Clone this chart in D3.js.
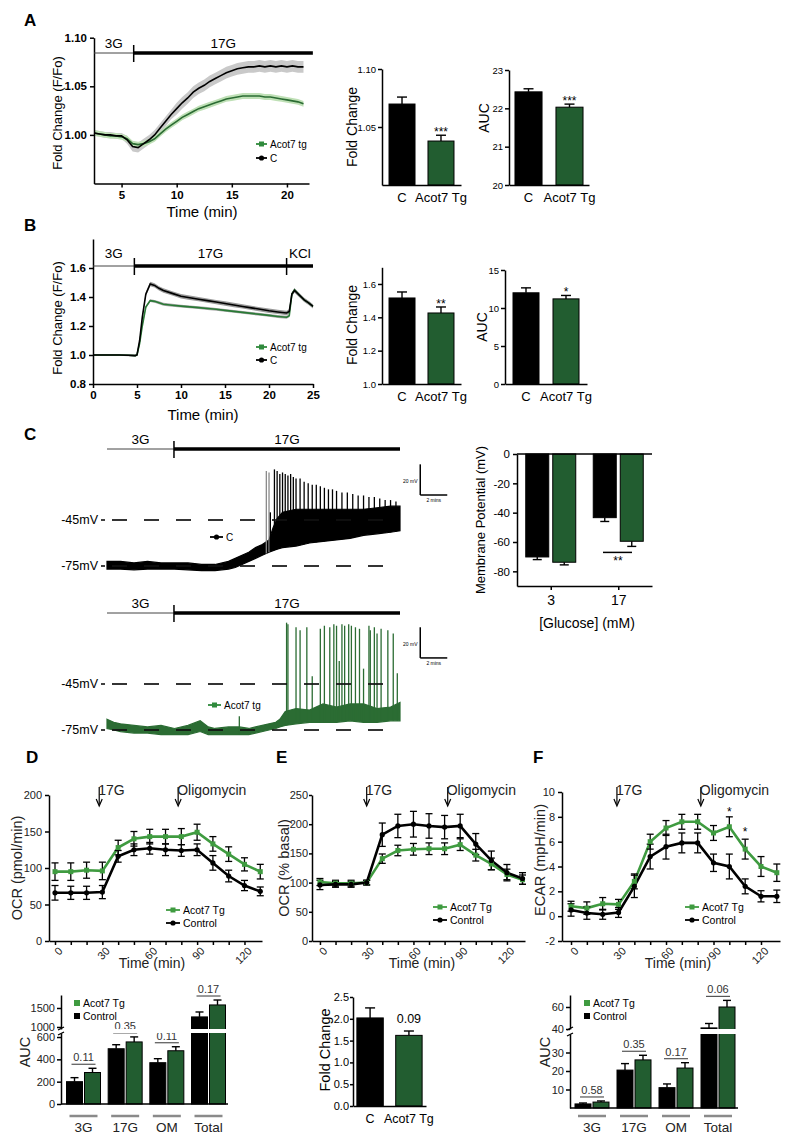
<!DOCTYPE html>
<html><head><meta charset="utf-8">
<script src="https://cdn.jsdelivr.net/npm/d3@7/dist/d3.min.js"></script>
<style>body{margin:0;background:#fff;}</style>
</head><body>
<script>
const FONT='"Liberation Sans", Arial, Helvetica, sans-serif';
// ================= DATA =================
// Panel A – Ca2+ fold change traces
const aTime=[2.5,3,3.5,4,4.5,5,5.5,6,6.5,7,7.5,8,8.5,9,9.5,10,10.5,11,11.5,12,12.5,13,13.5,14,14.5,15,15.5,16,16.5,17,17.5,18,18.5,19,19.5,20,20.5,21,21.5];
const aCtrl=[1.002,1.001,1.000,1.000,0.999,0.999,0.995,0.988,0.987,0.991,0.995,1.000,1.007,1.014,1.021,1.027,1.033,1.038,1.044,1.048,1.051,1.055,1.058,1.061,1.064,1.066,1.068,1.069,1.070,1.070,1.071,1.070,1.071,1.070,1.071,1.070,1.071,1.070,1.070];
const aCtrlSem=[0.003,0.003,0.003,0.003,0.003,0.003,0.004,0.005,0.005,0.005,0.005,0.005,0.005,0.005,0.005,0.006,0.006,0.006,0.006,0.006,0.006,0.006,0.006,0.006,0.006,0.006,0.006,0.006,0.006,0.006,0.006,0.006,0.006,0.006,0.006,0.006,0.006,0.006,0.006];
const aTg=[1.002,1.001,1.000,0.999,0.999,0.998,0.996,0.991,0.990,0.991,0.993,0.996,1.001,1.006,1.010,1.014,1.018,1.021,1.024,1.027,1.029,1.031,1.033,1.035,1.037,1.038,1.039,1.040,1.040,1.040,1.040,1.039,1.039,1.038,1.037,1.036,1.035,1.034,1.032];
const aTgSem=[0.003,0.003,0.003,0.003,0.003,0.003,0.003,0.003,0.003,0.003,0.003,0.003,0.003,0.003,0.003,0.003,0.003,0.003,0.003,0.003,0.003,0.003,0.003,0.003,0.003,0.003,0.003,0.003,0.003,0.003,0.003,0.003,0.003,0.003,0.003,0.003,0.003,0.003,0.003];
const aTreat=["3G","17G"], aTreatBounds=[2.5,6.1,22.35];
const barGroups=["C","Acot7 Tg"];
const aFold=[1.0698,1.0379], aFoldErr=[0.006,0.005], aFoldSig=["","***"];
const aAuc=[22.43,22.03], aAucErr=[0.08,0.08], aAucSig=["","***"];
// Panel B
const bTime=[0,1,2,3,4,4.8,5,5.3,5.6,6,6.5,7,7.5,8,9,10,11,12,13,14,15,16,17,18,19,20,21,22,22.3,22.6,22.9,23.5,24,24.5,25];
const bCtrl=[1.0,1.0,1.0,1.0,0.998,0.996,1.0,1.1,1.26,1.42,1.49,1.48,1.46,1.445,1.425,1.405,1.395,1.385,1.375,1.365,1.355,1.345,1.335,1.325,1.315,1.305,1.297,1.29,1.30,1.42,1.445,1.41,1.38,1.36,1.335];
const bCtrlSem=[0.006,0.006,0.006,0.006,0.006,0.006,0.006,0.012,0.014,0.015,0.015,0.015,0.015,0.015,0.015,0.015,0.015,0.015,0.015,0.015,0.015,0.015,0.015,0.015,0.015,0.015,0.015,0.015,0.015,0.015,0.015,0.015,0.015,0.015,0.015];
const bTg=[1.0,1.0,1.0,1.0,0.998,0.996,1.0,1.08,1.2,1.33,1.375,1.37,1.36,1.35,1.343,1.337,1.332,1.327,1.321,1.315,1.308,1.301,1.294,1.287,1.28,1.273,1.266,1.26,1.27,1.42,1.45,1.41,1.38,1.36,1.335];
const bTgSem=[0.005,0.005,0.005,0.005,0.005,0.005,0.005,0.01,0.01,0.01,0.01,0.01,0.01,0.01,0.01,0.01,0.01,0.01,0.01,0.01,0.01,0.01,0.01,0.01,0.01,0.01,0.01,0.01,0.01,0.01,0.01,0.01,0.01,0.01,0.01];
const bTreat=["3G","17G","KCl"], bTreatBounds=[0,4.7,22.0,25.0];
const bFold=[1.516,1.426], bFoldErr=[0.036,0.036], bFoldSig=["","**"];
const bAuc=[12.0,11.2], bAucErr=[0.65,0.45], bAucSig=["","*"];
// Panel C – membrane potential traces (envelopes, mV) and spikes
const cTreat=["3G","17G"], cTreatBounds=[0,4.96,21.7];
const cTime=[0,1,2,3,4,5,6,7,8,9,9.5,10,10.5,11,11.5,12,12.3,12.6,13,14,15,16,17,18,19,20,21,21.7];
const cLow=[-77,-77,-77.5,-77,-77,-77,-77.5,-78,-78,-77,-76,-74,-72,-70,-68,-66,-65,-64,-63,-62,-60,-59,-58,-57,-55,-54,-53,-52];
const cCore=[-72,-72,-73,-72,-73,-73,-73,-74,-74,-72,-70,-68,-66,-63,-61,-58,-50,-44,-40,-38,-38,-38,-38,-38,-38,-37,-36,-36];
const cSpikeT=[11.8,12.0,12.1,12.4,12.6,12.8,13.0,13.2,13.4,13.6,13.8,14.0,14.3,14.6,14.9,15.2,15.5,15.8,16.1,16.4,16.7,17.0,17.4,17.8,18.2,18.6,19.0,19.4,19.8,20.2,20.6,21.0,21.4];
const cSpikeV=[-13,-14,-40,-12,-13,-15,-14,-15,-16,-15,-17,-18,-18,-20,-21,-22,-22,-23,-24,-25,-25,-26,-27,-27,-28,-29,-29,-30,-30,-31,-32,-32,-33];
const gTime=[0,0.5,1,2,3,4,5,6,6.9,7.5,8,9,9.8,10.5,11,12,12.5,12.8,13.2,14,15,16,17,18,19,20,21,21.7];
const gLow=[-74,-75,-76,-77,-77,-78,-78,-78,-76,-78,-78,-78,-78,-78,-77,-75,-74,-73,-72,-71,-70,-70,-70,-69,-70,-70,-69,-69];
const gHigh=[-68,-70,-71,-72,-73,-72,-74,-72,-69,-73,-74,-73,-73,-74,-73,-71,-70,-68,-63,-61,-62,-58,-60,-58,-58,-61,-60,-57];
const gSpikeT=[9.8,13.3,13.4,14.0,14.3,14.8,15.2,15.8,16.1,16.5,16.8,17.0,17.2,17.4,17.6,17.9,18.1,18.4,18.7,19.0,19.4,19.5,19.8,20.0,20.3,20.8,21.2,21.5];
const gSpikeV=[-66,-5,-6,-8,-10,-8,-40,-9,-7,-8,-6,-7,-30,-6,-7,-6,-7,-8,-9,-35,-7,-10,-8,-12,-9,-10,-12,-38];
const mvRefs=[-45,-75];
// Panel C – membrane potential bars
const mpGlucose=["3","17"];
const mpCtrl=[-70.2,-43.4], mpCtrlErr=[1.8,2.6];
const mpTg=[-73.8,-59.5], mpTgErr=[1.8,3.5];
// Panels D–F – Seahorse time courses
const seaTime=[0,10,20,30,40,50,60,70,80,90,100,110,120,130];
const seaTicks=[0,10,20,30,40,50,60,70,80,90,100,110,120];
const ocrTg=[95,95,97,96,128,140,143,143,143,149,133,119,105,95];
const ocrTgErr=[12,12,11,12,10,10,10,10,11,11,10,10,9,10];
const ocrCtrl=[66,66,66,67,116,125,127,125,124,125,107,89,76,68];
const ocrCtrlErr=[10,9,9,9,8,8,8,8,8,8,10,8,7,6];
const pctTg=[101,99,99,100,141,155,157,158,158,165,147,132,114,105];
const pctTgErr=[6,5,5,4,8,9,10,10,10,10,10,10,9,8];
const pctCtrl=[96,97,97,100,182,197,200,197,195,197,166,138,117,107];
const pctCtrlErr=[8,5,5,4,20,20,22,21,20,20,18,16,14,10];
const ecarTg=[0.8,0.65,1.0,0.95,2.8,6.0,7.1,7.6,7.6,6.7,7.2,5.4,4.0,3.5];
const ecarTgErr=[0.4,0.5,0.5,0.4,0.6,0.6,0.6,0.6,0.6,0.6,0.8,0.8,0.8,0.7];
const ecarCtrl=[0.5,0.25,0.15,0.3,2.4,4.8,5.6,5.9,5.9,4.3,4.0,2.4,1.6,1.6];
const ecarCtrlErr=[0.5,0.5,0.4,0.4,0.9,1.0,1.0,0.8,0.8,0.7,1.0,0.6,0.45,0.5];
const ecarStarT=[100,110], ecarStarV=[8.6,7.0];
// Bottom bar charts
const aucGroups=["3G","17G","OM","Total"];
const ocrAucCtrl=[200,495,370,1265], ocrAucCtrlErr=[36,36,36,130];
const ocrAucTg=[282,556,477,1580], ocrAucTgErr=[38,45,36,130];
const ocrAucP=["0.11","0.35","0.11","0.17"];
const ocrFold=[2.02,1.62], ocrFoldErr=[0.23,0.1], ocrFoldP=["","0.09"];
const ecarAucCtrl=[2.2,20.5,11,41], ecarAucCtrlErr=[0.5,3.5,2,4];
const ecarAucTg=[3.2,26,21.6,60], ecarAucTgErr=[0.6,2.5,2.9,6];
const ecarAucP=["0.58","0.35","0.17","0.06"];

// ================= DRAWING =================
const GREEN_BAR="#225d30", GREEN_LINE="#3f9b40", GREEN_TRACE="#2b6c33";
const svg=d3.select("body").append("svg").attr("width",800).attr("height",1145).attr("font-family",FONT);
svg.append("rect").attr("width",800).attr("height",1145).attr("fill","#fff");

function T(s,x,y,o={}){
  const t=svg.append("text").attr("x",x).attr("y",y).text(s).attr("font-size",o.size||12)
   .attr("text-anchor",o.anchor||"middle").attr("fill",o.fill||"#000");
  if(o.weight) t.attr("font-weight",o.weight);
  if(o.rot!==undefined) t.attr("transform",`rotate(${o.rot},${x},${y})`);
  if(o.dy) t.attr("dy",o.dy);
  return t;
}
function styleAx(sel,size,weight,fill){
  sel.attr("font-family",FONT).attr("font-size",size);
  sel.select(".domain").attr("stroke","#000").attr("stroke-width",1.5);
  sel.selectAll(".tick line").attr("stroke","#000").attr("stroke-width",1.5);
  sel.selectAll(".tick text").attr("fill",fill||"#000").attr("font-weight",weight||"normal");
}
function L(x1,y1,x2,y2,col,w,dash){
  const l=svg.append("line").attr("x1",x1).attr("y1",y1).attr("x2",x2).attr("y2",y2).attr("stroke",col||"#000").attr("stroke-width",w||1.5);
  if(dash) l.attr("stroke-dasharray",dash);
  return l;
}
function errBar(x,y0,y1,cap){ L(x,y0,x,y1,"#000",1.4); L(x-cap/2,y1,x+cap/2,y1,"#000",1.4); }
function interp(ts,vs,t){
  const i=d3.bisectLeft(ts,t);
  if(i<=0) return vs[0]; if(i>=ts.length) return vs[vs.length-1];
  return vs[i-1]+(vs[i]-vs[i-1])*(t-ts[i-1])/(ts[i]-ts[i-1]);
}
function treat(xs,bounds,labels,yLine,textY){
  for(let i=0;i<labels.length;i++){
    const x0=xs(bounds[i]),x1=xs(bounds[i+1]);
    L(x0,yLine,x1,yLine,i==0?"#444":"#000",i==0?1:3.5);
    if(i>0) L(x0,yLine-8,x0,yLine+9,"#000",1.5);
    T(labels[i],(x0+x1)/2,textY,{size:13.5});
  }
}
function legendItem(x,y,color,shape,label,size,len){
  L(x,y,x+len,y,color,1.8);
  if(shape==="sq") svg.append("rect").attr("x",x+len/2-2.5).attr("y",y-2.5).attr("width",5).attr("height",5).attr("fill",color);
  else svg.append("circle").attr("cx",x+len/2).attr("cy",y).attr("r",2.6).attr("fill",color);
  T(label,x+len+3,y,{size:size,anchor:"start",dy:"0.35em"});
}
const bandPath=(xs,ys,ts,m,s)=>d3.area().x((d,i)=>xs(ts[i])).y0((d,i)=>ys(m[i]-s[i])).y1((d,i)=>ys(m[i]+s[i]))(m);
const linePath=(xs,ys,ts,m)=>d3.line().x((d,i)=>xs(ts[i])).y(d=>ys(d))(m);

// ----- Panel labels -----
[["A",24,26],["B",24,231],["C",24,440],["D",26,763],["E",276,763],["F",533,763]].forEach(d=>T(d[0],d[1],d[2],{size:17,weight:"bold",anchor:"start"}));

// ----- Panel A trace -----
{
  const xA=d3.scaleLinear().domain([2.5,22]).range([94,309]);
  const yA=d3.scaleLinear().domain([0.95,1.10]).range([183.5,37.7]);
  svg.append("path").attr("d",bandPath(xA,yA,aTime,aCtrl,aCtrlSem)).attr("fill","#c9c9c9");
  svg.append("path").attr("d",bandPath(xA,yA,aTime,aTg,aTgSem)).attr("fill","#bfe0b6");
  svg.append("path").attr("d",linePath(xA,yA,aTime,aTg)).attr("fill","none").attr("stroke",GREEN_TRACE).attr("stroke-width",1.6);
  svg.append("path").attr("d",linePath(xA,yA,aTime,aCtrl)).attr("fill","none").attr("stroke","#000").attr("stroke-width",1.6);
  svg.append("g").attr("transform","translate(0,183.5)").call(d3.axisBottom(xA).tickValues([5,10,15,20]).tickSize(4).tickSizeOuter(0)).call(styleAx,11.5,"bold");
  svg.append("g").attr("transform","translate(94,0)").call(d3.axisLeft(yA).tickValues([1.00,1.05,1.10]).tickFormat(d3.format(".2f")).tickSize(4).tickSizeOuter(0)).call(styleAx,11.5,"bold");
  treat(xA,aTreatBounds,aTreat,53,48);
  T("Fold Change (F/Fo)",57,113,{size:13,rot:-90,dy:"0.35em"});
  T("Time (min)",202,217,{size:15});
  legendItem(256,144,"#2f8a3c","sq","Acot7 tg",10,11);
  legendItem(256,158,"#000","circle","C",10,11);
}
// ----- Simple bar charts -----
function simpleBars(c){
  const xs=d3.scaleBand().domain(barGroups).range(c.xr).paddingInner(c.pi).paddingOuter(c.po);
  const ys=d3.scaleLinear().domain(c.yd).range(c.yr);
  c.means.forEach((m,i)=>{
    const x=xs(barGroups[i]), w=xs.bandwidth();
    svg.append("rect").attr("x",x).attr("y",ys(m)).attr("width",w).attr("height",ys(c.yd[0])-ys(m))
      .attr("fill",i?GREEN_BAR:"#000").attr("stroke","#000").attr("stroke-width",1);
    errBar(x+w/2,ys(m),ys(m+c.errs[i]),c.cap||10);
    if(c.sig && c.sig[i]) T(c.sig[i],x+w/2,ys(m+c.errs[i])+(c.sigDy!==undefined?c.sigDy:1),{size:c.sigSize||12});
  });
  svg.append("g").attr("transform",`translate(${c.xr[0]},0)`).call(d3.axisLeft(ys).tickValues(c.ticks).tickFormat(c.fmt).tickSize(c.tl||4).tickPadding(c.tp!==undefined?c.tp:2).tickSizeOuter(0)).call(styleAx,c.tickFont||9.5);
  svg.append("g").attr("transform",`translate(0,${c.yr[0]})`).call(d3.axisBottom(xs).tickSize(0).tickPadding(8).tickSizeOuter(0)).call(styleAx,c.xFont||13);
  T(c.ylabel,c.ylx,c.yly,{size:c.ylSize||14,rot:-90,dy:"0.35em"});
}
simpleBars({xr:[382,461],pi:0.333,po:0.18,yd:[1.0,1.10],yr:[185,69],means:aFold,errs:aFoldErr,sig:aFoldSig,ticks:[1.05,1.10],fmt:d3.format(".2f"),ylabel:"Fold Change",ylx:352,yly:127});
simpleBars({xr:[509,589],pi:0.34,po:0.146,yd:[20,23],yr:[185,70],means:aAuc,errs:aAucErr,sig:aAucSig,ticks:[20,21,22,23],fmt:d3.format("d"),ylabel:"AUC",ylx:484,yly:118});
simpleBars({xr:[382,461],pi:0.333,po:0.18,yd:[1.0,1.7],yr:[384,267.3],means:bFold,errs:bFoldErr,sig:bFoldSig,ticks:[1.0,1.2,1.4,1.6],fmt:d3.format(".1f"),ylabel:"Fold Change",ylx:352,yly:325});
simpleBars({xr:[505,587],pi:0.35,po:0.2,yd:[0,15],yr:[384,270],means:bAuc,errs:bAucErr,sig:bAucSig,ticks:[0,5,10,15],fmt:d3.format("d"),ylabel:"AUC",ylx:482,yly:327});

// ----- Panel B trace -----
{
  const xB=d3.scaleLinear().domain([0,25]).range([93,313]);
  const yB=d3.scaleLinear().domain([0.8,1.8]).range([384,239]);
  svg.append("path").attr("d",bandPath(xB,yB,bTime,bCtrl,bCtrlSem)).attr("fill","#9a9a9a");
  svg.append("path").attr("d",bandPath(xB,yB,bTime,bTg,bTgSem)).attr("fill","#a8a8a8");
  svg.append("path").attr("d",linePath(xB,yB,bTime,bTg)).attr("fill","none").attr("stroke","#2a7a36").attr("stroke-width",1.6);
  svg.append("path").attr("d",linePath(xB,yB,bTime,bCtrl)).attr("fill","none").attr("stroke","#000").attr("stroke-width",1.6);
  svg.append("g").attr("transform","translate(0,384)").call(d3.axisBottom(xB).tickValues([0,5,10,15,20,25]).tickSize(4).tickSizeOuter(0)).call(styleAx,11.5,"bold");
  svg.append("g").attr("transform","translate(93,0)").call(d3.axisLeft(yB).tickValues([0.8,1.0,1.2,1.4,1.6]).tickFormat(d3.format(".1f")).tickSize(4).tickSizeOuter(0)).call(styleAx,11.5,"bold");
  treat(xB,bTreatBounds,bTreat,266,258);
  T("Fold Change (F/Fo)",57,318,{size:13,rot:-90,dy:"0.35em"});
  T("Time (min)",203,420,{size:15});
  legendItem(256,347,"#2f8a3c","sq","Acot7 tg",10,11);
  legendItem(256,360,"#000","circle","C",10,11);
}

// ----- Panel C traces -----
{
  const xC=d3.scaleLinear().domain([0,21.7]).range([107,400]);
  const yCt=d3.scaleLinear().domain([-75,-45]).range([566,520]);
  const yCb=d3.scaleLinear().domain([-75,-45]).range([730,684]);
  treat(xC,cTreatBounds,cTreat,449,444);
  svg.append("path").attr("d",d3.area().x((d,i)=>xC(cTime[i])).y0((d,i)=>yCt(cLow[i])).y1((d,i)=>yCt(cCore[i]))(cLow))
    .attr("fill","#000").attr("stroke","#000").attr("stroke-width",1.2);
  cSpikeT.forEach((t,i)=>L(xC(t),yCt(interp(cTime,cLow,t)),xC(t),yCt(cSpikeV[i]),i<2?"#8a8a8a":"#000",1.3));
  treat(xC,cTreatBounds,cTreat,613,608);
  svg.append("path").attr("d",d3.area().x((d,i)=>xC(gTime[i])).y0((d,i)=>yCb(gLow[i])).y1((d,i)=>yCb(gHigh[i]))(gLow))
    .attr("fill",GREEN_TRACE).attr("stroke",GREEN_TRACE).attr("stroke-width",1.2);
  gSpikeT.forEach((t,i)=>L(xC(t),yCb(interp(gTime,gLow,t)),xC(t),yCb(gSpikeV[i]),GREEN_TRACE,1.3));
  [[yCt],[yCb]].forEach(([ys])=>{
    mvRefs.forEach(v=>{
      L(112,ys(v),400,ys(v),"#111",2,"15,17").attr("opacity",0.85);
      T(v+"mV",98,ys(v),{size:12.5,anchor:"end",dy:"0.35em"});
      L(101,ys(v),105,ys(v),"#000",1.5);
    });
  });
  [[yCt,-28.7],[yCb,-28.0]].forEach(([ys,v0])=>{
    L(xC(23.2),ys(v0),xC(23.2),ys(v0+20),"#000",1.5);
    L(xC(23.2),ys(v0),xC(25.2),ys(v0),"#000",1.5);
    T("20 mV",xC(23.0),ys(v0+8),{size:5,anchor:"end"});
    T("2 mins",xC(24.2),ys(v0)+7,{size:5});
  });
  legendItem(210,537,"#000","circle","C",10,13);
  legendItem(208,705,"#2f8a3c","sq","Acot7 tg",10,13);
}

// ----- Panel C membrane potential bars -----
{
  const xM=d3.scalePoint().domain(mpGlucose).range([517,652]).padding(0.5);
  const yM=d3.scaleLinear().domain([-90,0]).range([586,454]);
  mpGlucose.forEach((gname,i)=>{
    const c=xM(gname);
    [[mpCtrl[i],mpCtrlErr[i],"#000",-25],[mpTg[i],mpTgErr[i],GREEN_BAR,2]].forEach(([m,e,col,off])=>{
      svg.append("rect").attr("x",c+off).attr("y",yM(0)).attr("width",23).attr("height",yM(m)-yM(0)).attr("fill",col).attr("stroke","#000").attr("stroke-width",1);
      errBar(c+off+11.5,yM(m),yM(m-e),9);
    });
  });
  const sy=yM(mpTg[1]-mpTgErr[1])+6;
  L(603,sy,632,sy,"#000",1.5);
  T("**",618,sy+13,{size:12});
  svg.append("g").attr("transform","translate(517,0)").call(d3.axisLeft(yM).tickValues([0,-20,-40,-60,-80]).tickFormat(d=>String(d)).tickSize(4).tickSizeOuter(0)).call(styleAx,11.5);
  L(517,yM(0),652,yM(0),"#000",1.5);
  svg.append("g").attr("transform","translate(0,586)").call(d3.axisBottom(xM).tickSize(4).tickPadding(5).tickSizeOuter(0)).call(styleAx,14);
  T("Membrane Potential (mV)",480,520,{size:13,rot:-90,dy:"0.35em"});
  T("[Glucose] (mM)",587,628,{size:14});
}

// ----- Panels D, E, F time courses -----
function timeCourse(c){
  const xs=d3.scaleLinear().domain(c.xd).range(c.xr);
  const ys=d3.scaleLinear().domain(c.yd).range([941,c.yTop]);
  svg.append("path").attr("d",linePath(xs,ys,seaTime,c.tg)).attr("fill","none").attr("stroke",GREEN_LINE).attr("stroke-width",2.6);
  svg.append("path").attr("d",linePath(xs,ys,seaTime,c.ctrl)).attr("fill","none").attr("stroke","#000").attr("stroke-width",2.6);
  [[c.tg,c.tgErr],[c.ctrl,c.ctrlErr]].forEach(([m,e])=>{
    m.forEach((v,i)=>{ const x=xs(seaTime[i]); L(x,ys(v-e[i]),x,ys(v+e[i]),"#000",1.3); L(x-3.5,ys(v-e[i]),x+3.5,ys(v-e[i]),"#000",1.3); L(x-3.5,ys(v+e[i]),x+3.5,ys(v+e[i]),"#000",1.3); });
  });
  c.tg.forEach((v,i)=>svg.append("rect").attr("x",xs(seaTime[i])-2.5).attr("y",ys(v)-2.5).attr("width",5).attr("height",5).attr("fill",GREEN_LINE));
  c.ctrl.forEach((v,i)=>svg.append("circle").attr("cx",xs(seaTime[i])).attr("cy",ys(v)).attr("r",2.6).attr("fill","#000"));
  const gx=svg.append("g").attr("transform","translate(0,941)").call(d3.axisBottom(xs).tickValues(seaTicks).tickFormat(d=>d%30===0?d:"").tickSize(4).tickSizeOuter(0)).call(styleAx,11,"normal","#222");
  gx.selectAll(".tick text").attr("x",0).attr("y",0).attr("dy","0.35em").attr("text-anchor","end").attr("transform","translate(5,8) rotate(-45)");
  svg.append("g").attr("transform",`translate(${c.xr[0]},0)`).call(d3.axisLeft(ys).tickValues(c.yTicks).tickFormat(d=>String(d)).tickSize(c.tl||4).tickPadding(c.tp!==undefined?c.tp:3).tickSizeOuter(0)).call(styleAx,11,"normal","#222");
  c.arrows.forEach((t,i)=>{
    const x=xs(t);
    L(x,787,x,804,"#000",1.2);
    svg.append("path").attr("d",`M${x-3},${799}L${x},${806}L${x+3},${799}`).attr("fill","none").attr("stroke","#000").attr("stroke-width",1.2);
    T(i==0?"17G":"Oligomycin",x-1,795,{size:14,anchor:"start",fill:"#222"});
  });
  (c.stars||[]).forEach(s=>T("*",xs(s[0]),ys(s[1])+7,{size:12}));
  T(c.ylabel,c.ylx,c.yly,{size:14.5,rot:-90,dy:"0.35em",fill:"#222"});
  T("Time (min)",c.tx,968,{size:14,fill:"#222"});
  legendItem(c.legX,c.legY,GREEN_LINE,"sq","Acot7 Tg",10.5,14);
  legendItem(c.legX,c.legY+13,"#000","circle","Control",10.5,14);
}
timeCourse({xd:[-3.8,131.1],xr:[49,262],yd:[0,200],yTop:795,yTicks:[0,50,100,150,200],tg:ocrTg,tgErr:ocrTgErr,ctrl:ocrCtrl,ctrlErr:ocrCtrlErr,arrows:[28,78],ylabel:"OCR (pmol/min)",ylx:17,yly:868,tx:152,legX:166,legY:910});
timeCourse({xd:[-5.1,131.6],xr:[312,525],yd:[0,250],yTop:795,yTicks:[0,50,100,150,200,250],tl:3,tp:1,tg:pctTg,tgErr:pctTgErr,ctrl:pctCtrl,ctrlErr:pctCtrlErr,arrows:[30,82],ylabel:"OCR (% basal)",ylx:284,yly:868,tx:422,legX:433,legY:907});
timeCourse({xd:[-5.7,132],xr:[562,780],yd:[-2,10],yTop:792,yTicks:[-2,0,2,4,6,8,10],tg:ecarTg,tgErr:ecarTgErr,ctrl:ecarCtrl,ctrlErr:ecarCtrlErr,arrows:[29,82],stars:ecarStarT.map((t,i)=>[t,ecarStarV[i]]),ylabel:"ECAR (mpH/min)",ylx:540,yly:860,tx:678,legX:685,legY:907});

// ----- Bottom grouped AUC bars with broken axis -----
function grouped(c){
  const xg=d3.scalePoint().domain(aucGroups).range(c.cr);
  const yv=v=>v>c.split?c.yHi(v):c.yLo(v);
  const y0=c.yLo(0);
  aucGroups.forEach((gname,i)=>{
    const cx=xg(gname);
    const tops=[];
    [[c.ctrl,c.ctrlErr,"#000",-17],[c.tg,c.tgErr,GREEN_BAR,1]].forEach(([m,e,col,off])=>{
      const y1=yv(m[i]);
      svg.append("rect").attr("x",cx+off).attr("y",y1).attr("width",16).attr("height",y0-y1).attr("fill",col).attr("stroke","#000").attr("stroke-width",1);
      const ye=yv(m[i]+e[i]); tops.push(ye);
      errBar(cx+off+8,y1,ye,8);
    });
    const ly=Math.min(...tops)-4;
    L(cx-12,ly,cx+12,ly,"#555",1.2);
    T(c.p[i],cx,ly-3,{size:11,fill:"#333"});
    L(cx-14,1116,cx+14,1116,"#8a8a8a",2.5);
    T(gname,cx,1132,{size:13.5,fill:"#222"});
  });
  svg.append("rect").attr("x",c.ax+2).attr("y",c.gap[0]).attr("width",c.xEnd-c.ax).attr("height",c.gap[1]-c.gap[0]).attr("fill","#fff");
  svg.append("g").attr("transform",`translate(${c.ax},0)`).call(d3.axisLeft(c.yLo).tickValues(c.loTicks).tickFormat(d=>String(d)).tickSize(4).tickPadding(2).tickSizeOuter(0)).call(styleAx,11,"normal","#222");
  svg.append("g").attr("transform",`translate(${c.ax},0)`).call(d3.axisLeft(c.yHi).tickValues(c.hiTicks).tickFormat(d=>String(d)).tickSize(4).tickPadding(2).tickSizeOuter(0)).call(styleAx,11,"normal","#222");
  L(c.ax-3,c.gap[0]+1,c.ax+3,c.gap[0]-2,"#000",1.3);
  L(c.ax-3,c.gap[1]+2,c.ax+3,c.gap[1]-1,"#000",1.3);
  L(c.ax,y0,c.xEnd,y0,"#000",1.5);
  T("AUC",c.ylx,1052,{size:14.5,rot:-90,dy:"0.35em",fill:"#222"});
  svg.append("rect").attr("x",c.legX).attr("y",c.legY-3).attr("width",6).attr("height",6).attr("fill",GREEN_LINE);
  T("Acot7 Tg",c.legX+9,c.legY,{size:10.5,anchor:"start",dy:"0.35em"});
  svg.append("rect").attr("x",c.legX).attr("y",c.legY+10).attr("width",6).attr("height",6).attr("fill","#000");
  T("Control",c.legX+9,c.legY+13,{size:10.5,anchor:"start",dy:"0.35em"});
}
grouped({cr:[83.5,208.5],ax:61,xEnd:228,split:636,
  yLo:d3.scaleLinear().domain([0,636]).range([1104,1033]),
  yHi:d3.scaleLinear().domain([947,1842]).range([1029,995]),
  loTicks:[0,200,400,600],hiTicks:[1000,1500],gap:[1029,1033],
  ctrl:ocrAucCtrl,ctrlErr:ocrAucCtrlErr,tg:ocrAucTg,tgErr:ocrAucTgErr,p:ocrAucP,ylx:25,legX:74,legY:1003});
grouped({cr:[592,718],ax:570,xEnd:738,split:40,
  yLo:d3.scaleLinear().domain([0,40]).range([1108,1034]),
  yHi:d3.scaleLinear().domain([40,70.9]).range([1029,995]),
  loTicks:[10,20,30],hiTicks:[40,60],gap:[1029,1034],
  ctrl:ecarAucCtrl,ctrlErr:ecarAucCtrlErr,tg:ecarAucTg,tgErr:ecarAucTgErr,p:ecarAucP,ylx:545,legX:584,legY:1003});
simpleBars({xr:[353,426],pi:0.32,po:0.1,yd:[0,2.5],yr:[1106,997],means:ocrFold,errs:ocrFoldErr,sig:ocrFoldP,sigDy:-8,sigSize:12.5,ticks:[0,0.5,1,1.5,2,2.5],fmt:d3.format(".1f"),tickFont:11,tl:3,tp:1,xFont:12.5,ylabel:"Fold Change",ylx:325,yly:1050,ylSize:14.5});
</script>
</body></html>
